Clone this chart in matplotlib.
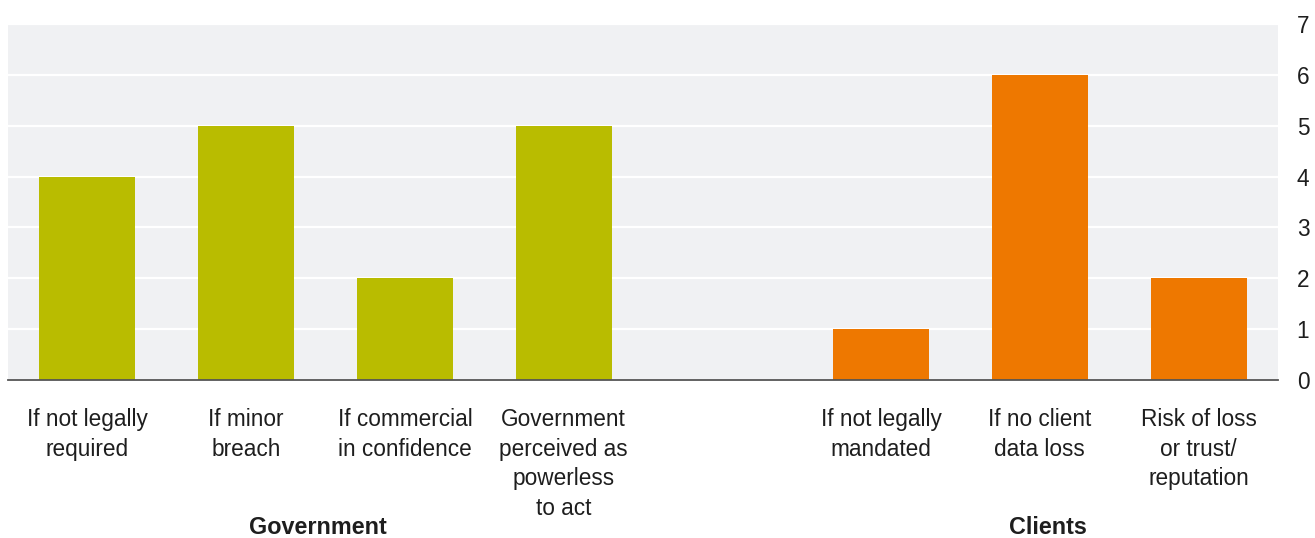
import numpy as np
import matplotlib.pyplot as plt

plt.rcParams['font.family'] = ['Liberation Sans', 'DejaVu Sans']

# one slot per answer, with an empty slot between the two groups
gov_labels = ['If not legally\nrequired', 'If minor\nbreach', 'If commercial\nin confidence',
              'Government\nperceived as\npowerless\nto act']
gov_values = [4, 5, 2, 5]
client_labels = ['If not legally\nmandated', 'If no client\ndata loss', 'Risk of loss\nor trust/\nreputation']
client_values = [1, 6, 2]

gov_color = '#b9bc00'
client_color = '#ee7800'
panel_color = '#f0f1f3'
text_color = '#1e1e1e'

gov_x = np.arange(len(gov_values))
client_x = np.arange(len(client_values)) + len(gov_values) + 1

fig = plt.figure(figsize=(13.15, 5.38), dpi=100)
ax = fig.add_axes([8 / 1315, 1 - 380 / 538, 1270 / 1315, 356 / 538])
ax.set_facecolor(panel_color)

ax.bar(gov_x, gov_values, width=0.605, color=gov_color, zorder=3)
ax.bar(client_x, client_values, width=0.605, color=client_color, zorder=3)

ax.set_xlim(-0.5, len(gov_values) + len(client_values) + 0.5)
ax.set_ylim(0, 7)
ax.set_yticks(range(8))
ax.yaxis.tick_right()
ax.yaxis.grid(True, color='white', linewidth=1.6, zorder=1)
ax.set_axisbelow(True)

ax.set_xticks(list(gov_x) + list(client_x))
ax.set_xticklabels(gov_labels + client_labels, linespacing=1.38)
ax.tick_params(axis='x', length=0, pad=20, labelsize=16.3, labelcolor=text_color)
ax.tick_params(axis='y', length=0, pad=13.5, labelsize=16.3, labelcolor=text_color)
for lab in ax.get_yticklabels():
    lab.set_horizontalalignment('left')

for side in ['top', 'right', 'left']:
    ax.spines[side].set_visible(False)
ax.spines['bottom'].set_color('#555555')
ax.spines['bottom'].set_linewidth(1.3)
ax.spines['bottom'].set_zorder(4)

# group names under the answer labels
ax.text(gov_x.mean() - 0.05, -0.415, 'Government', transform=ax.get_xaxis_transform(),
        ha='center', va='center', fontsize=16.8, fontweight='bold', color=text_color)
ax.text(client_x.mean() + 0.05, -0.415, 'Clients', transform=ax.get_xaxis_transform(),
        ha='center', va='center', fontsize=16.8, fontweight='bold', color=text_color)

fig.savefig('out.png', dpi=100)
